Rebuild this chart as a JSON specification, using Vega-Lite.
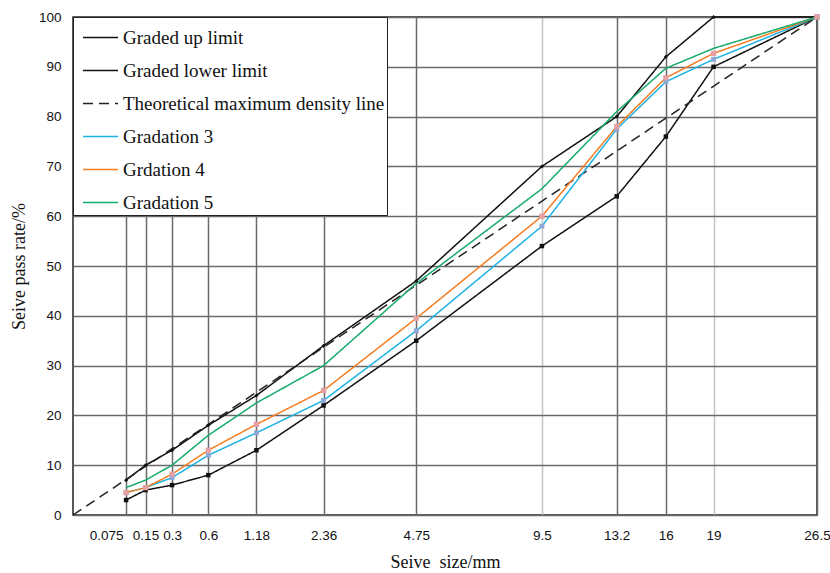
{
  "$schema": "https://vega.github.io/schema/vega-lite/v6.json",
  "width": 744,
  "height": 498,
  "autosize": "none",
  "padding": {"left": 73, "top": 17, "right": 13, "bottom": 58},
  "background": "white",
  "config": {
    "view": {"stroke": "#222", "strokeWidth": 1.5},
    "axis": {"labelFont": "Liberation Sans", "labelFontSize": 13.5, "labelColor": "#111", "titleFont": "Liberation Serif", "titleFontWeight": "normal", "titleColor": "#111", "titleFontSize": 18, "domain": false, "ticks": false, "gridColor": "#6a6a6a", "gridWidth": 1.5, "gridOpacity": 1}
  },
  "data": {"values": [
    {"series": "Graded up limit", "size": 0.075, "pass": 7},
    {"series": "Graded up limit", "size": 0.15, "pass": 10},
    {"series": "Graded up limit", "size": 0.3, "pass": 13},
    {"series": "Graded up limit", "size": 0.6, "pass": 18},
    {"series": "Graded up limit", "size": 1.18, "pass": 24},
    {"series": "Graded up limit", "size": 2.36, "pass": 34},
    {"series": "Graded up limit", "size": 4.75, "pass": 47},
    {"series": "Graded up limit", "size": 9.5, "pass": 70},
    {"series": "Graded up limit", "size": 13.2, "pass": 80},
    {"series": "Graded up limit", "size": 16, "pass": 92},
    {"series": "Graded up limit", "size": 19, "pass": 100},
    {"series": "Graded up limit", "size": 26.5, "pass": 100},
    {"series": "Graded lower limit", "size": 0.075, "pass": 3},
    {"series": "Graded lower limit", "size": 0.15, "pass": 5},
    {"series": "Graded lower limit", "size": 0.3, "pass": 6},
    {"series": "Graded lower limit", "size": 0.6, "pass": 8},
    {"series": "Graded lower limit", "size": 1.18, "pass": 13},
    {"series": "Graded lower limit", "size": 2.36, "pass": 22},
    {"series": "Graded lower limit", "size": 4.75, "pass": 35},
    {"series": "Graded lower limit", "size": 9.5, "pass": 54},
    {"series": "Graded lower limit", "size": 13.2, "pass": 64},
    {"series": "Graded lower limit", "size": 16, "pass": 76},
    {"series": "Graded lower limit", "size": 19, "pass": 90},
    {"series": "Graded lower limit", "size": 26.5, "pass": 100},
    {"series": "Theoretical maximum density line", "size": 0, "pass": 0},
    {"series": "Theoretical maximum density line", "size": 26.5, "pass": 100},
    {"series": "Gradation 3", "size": 0.075, "pass": 4.5},
    {"series": "Gradation 3", "size": 0.15, "pass": 5.5},
    {"series": "Gradation 3", "size": 0.3, "pass": 7.5},
    {"series": "Gradation 3", "size": 0.6, "pass": 12},
    {"series": "Gradation 3", "size": 1.18, "pass": 16.5},
    {"series": "Gradation 3", "size": 2.36, "pass": 23},
    {"series": "Gradation 3", "size": 4.75, "pass": 37},
    {"series": "Gradation 3", "size": 9.5, "pass": 58},
    {"series": "Gradation 3", "size": 13.2, "pass": 77.5},
    {"series": "Gradation 3", "size": 16, "pass": 87},
    {"series": "Gradation 3", "size": 19, "pass": 91.5},
    {"series": "Gradation 3", "size": 26.5, "pass": 100},
    {"series": "Grdation 4", "size": 0.075, "pass": 4.5},
    {"series": "Grdation 4", "size": 0.15, "pass": 5.5},
    {"series": "Grdation 4", "size": 0.3, "pass": 8.2},
    {"series": "Grdation 4", "size": 0.6, "pass": 13},
    {"series": "Grdation 4", "size": 1.18, "pass": 18.2},
    {"series": "Grdation 4", "size": 2.36, "pass": 25},
    {"series": "Grdation 4", "size": 4.75, "pass": 39.5},
    {"series": "Grdation 4", "size": 9.5, "pass": 60},
    {"series": "Grdation 4", "size": 13.2, "pass": 78},
    {"series": "Grdation 4", "size": 16, "pass": 87.8},
    {"series": "Grdation 4", "size": 19, "pass": 92.7},
    {"series": "Grdation 4", "size": 26.5, "pass": 100},
    {"series": "Gradation 5", "size": 0.075, "pass": 5.5},
    {"series": "Gradation 5", "size": 0.15, "pass": 7},
    {"series": "Gradation 5", "size": 0.3, "pass": 10},
    {"series": "Gradation 5", "size": 0.6, "pass": 16},
    {"series": "Gradation 5", "size": 1.18, "pass": 22.5},
    {"series": "Gradation 5", "size": 2.36, "pass": 30},
    {"series": "Gradation 5", "size": 4.75, "pass": 46.5},
    {"series": "Gradation 5", "size": 9.5, "pass": 65.5},
    {"series": "Gradation 5", "size": 13.2, "pass": 81},
    {"series": "Gradation 5", "size": 16, "pass": 89.7},
    {"series": "Gradation 5", "size": 19, "pass": 93.7},
    {"series": "Gradation 5", "size": 26.5, "pass": 100}
  ]},
  "encoding": {
    "x": {"field": "size", "type": "quantitative",
      "scale": {"type": "pow", "exponent": 0.45, "domain": [0, 26.5], "nice": false, "zero": true},
      "axis": {"values": [0.075, 0.15, 0.3, 0.6, 1.18, 2.36, 4.75, 9.5, 13.2, 16, 19, 26.5], "labelExpr": "'' + datum.value", "title": "Seive\u00a0\u00a0size/mm", "labelPadding": 13, "titlePadding": 12, "labelOverlap": false, "labelFlush": false,
        "labelAlign": {"condition": {"test": "datum.value == 0.075", "value": "right"}, "value": "center"},
        "labelOffset": {"condition": {"test": "datum.value == 0.075", "value": -3}, "value": 0},
        "gridColor": {"condition": {"test": "datum.value == 9.5 || datum.value == 19", "value": "#c4c4c4"}, "value": "#6a6a6a"}}},
    "y": {"field": "pass", "type": "quantitative",
      "scale": {"domain": [0, 100], "nice": false},
      "axis": {"values": [0, 10, 20, 30, 40, 50, 60, 70, 80, 90, 100], "title": "Seive pass rate/%", "labelPadding": 12, "titlePadding": 10}}
  },
  "layer": [
    {
      "mark": {"type": "line", "clip": false},
      "encoding": {
        "color": {"field": "series", "type": "nominal",
          "scale": {"domain": ["Graded up limit", "Graded lower limit", "Theoretical maximum density line", "Gradation 3", "Grdation 4", "Gradation 5"],
                    "range": ["#111111", "#111111", "#222222", "#1eb2e4", "#f47d22", "#17ab6c"]},
          "legend": {"title": null, "orient": "none", "legendX": 0, "legendY": 0, "symbolType": "stroke", "symbolSize": 1225, "symbolStrokeWidth": 2.5, "symbolOffset": 7, "labelFont": "Liberation Serif", "labelFontSize": 19, "labelColor": "#111", "labelOffset": 4, "labelLimit": 400, "rowPadding": 4, "padding": 2, "strokeColor": "#222", "fillColor": "white", "offset": 0}},
        "strokeDash": {"field": "series", "type": "nominal",
          "scale": {"domain": ["Graded up limit", "Graded lower limit", "Theoretical maximum density line", "Gradation 3", "Grdation 4", "Gradation 5"],
                    "range": [[1, 0], [1, 0], [10, 6], [1, 0], [1, 0], [1, 0]]},
          "legend": {"title": null}},
        "strokeWidth": {"field": "series", "type": "nominal",
          "scale": {"domain": ["Graded up limit", "Graded lower limit", "Theoretical maximum density line", "Gradation 3", "Grdation 4", "Gradation 5"],
                    "range": [1.5, 1.5, 1.8, 2.2, 2, 2]},
          "legend": null},
        "order": {"field": "size"}
      }
    },
    {
      "transform": [{"filter": "datum.series != 'Theoretical maximum density line' && datum.series != 'Gradation 5'"}],
      "mark": {"type": "point", "filled": true, "opacity": 1},
      "encoding": {
        "fill": {"field": "series", "type": "nominal",
          "scale": {"domain": ["Graded up limit", "Graded lower limit", "Gradation 3", "Grdation 4"], "range": ["#111111", "#111111", "#8ea9d8", "#e6a0a3"]},
          "legend": null},
        "shape": {"field": "series", "type": "nominal",
          "scale": {"domain": ["Graded up limit", "Graded lower limit", "Gradation 3", "Grdation 4"], "range": ["diamond", "square", "square", "square"]},
          "legend": null},
        "size": {"field": "series", "type": "nominal",
          "scale": {"domain": ["Graded up limit", "Graded lower limit", "Gradation 3", "Grdation 4"], "range": [16, 28, 55, 55]},
          "legend": null}
      }
    }
  ]
}
